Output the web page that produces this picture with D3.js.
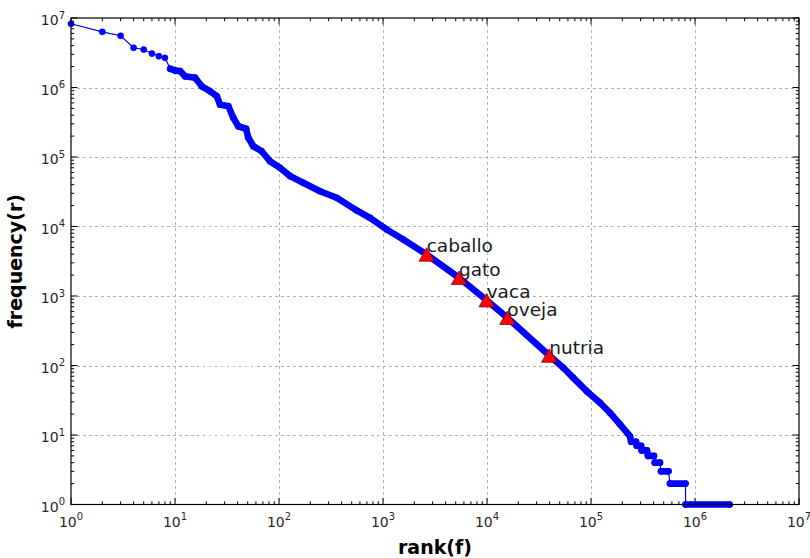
<!DOCTYPE html>
<html>
<head>
<meta charset="utf-8">
<script src="https://cdn.jsdelivr.net/npm/d3@7/dist/d3.min.js"></script>
<style>
  html, body { margin: 0; padding: 0; background: #fff; }
  svg { display: block; }
  text { font-family: "DejaVu Sans", sans-serif; }
</style>
</head>
<body>
<svg id="chart" width="810" height="558"></svg>
<script>
// ---- data ----
const ranks = [1, 2, 3, 4, 5, 6, 7, 8, 9, 10,
  11.2, 12.5, 15.6, 18.1, 21.7, 25.2, 27.1, 32.6, 36.4, 40.6,
  48.2, 50.7, 56.6, 68.2, 81.9, 102, 128, 171, 248, 359,
  559, 750, 1086, 1568, 2630, 5380, 9930, 15700, 39700, 54200,
  67600, 90900, 122000, 152000, 190000, 237000,
  243000, 271000, 275000, 303000, 307000, 345000, 353000, 403000,
  410000, 460000, 471000, 556000, 575000, 810000, 812000, 2150000];
const freqs = [8.26e6, 6.33e6, 5.55e6, 3.73e6, 3.52e6, 3.08e6, 2.82e6, 2.67e6, 1.86e6, 1.76e6,
  1.72e6, 1.45e6, 1.38e6, 1.04e6, 8.85e5, 7.5e5, 5.69e5, 5.38e5, 3.66e5, 2.77e5,
  2.55e5, 1.89e5, 1.43e5, 1.21e5, 8.7e4, 7.0e4, 5.3e4, 4.26e4, 3.22e4, 2.59e4,
  1.70e4, 1.33e4, 9060, 6500, 3955, 1828, 870, 486, 139, 92.7,
  66.5, 42.7, 29.1, 20.9, 14.2, 9.6,
  8, 8, 7, 7, 6, 6, 5, 5,
  4, 4, 3, 3, 2, 2, 1, 1];

const words = ["caballo", "gato", "vaca", "oveja", "nutria"];
const wordRanks = [2630, 5380, 9930, 15700, 39700];
const wordFreqs = [3955, 1828, 870, 486, 139];

const xExponents = [0, 1, 2, 3, 4, 5, 6, 7];
const yExponents = [0, 1, 2, 3, 4, 5, 6, 7];
const xLabel = "rank(f)";
const yLabel = "frequency(r)";

// ---- layout ----
const L = 71, R = 799, T = 18, B = 504.5;
const svg = d3.select("#chart");
const x = d3.scaleLog().domain([1, 1e7]).range([L, R]);
const y = d3.scaleLog().domain([1, 1e7]).range([B, T]);

const minorVals = [];
for (let e = 0; e < 7; e++) for (let m = 2; m <= 9; m++) minorVals.push(m * Math.pow(10, e));
const majorVals = xExponents.map(e => Math.pow(10, e));
const majorY = yExponents.map(e => Math.pow(10, e));

// grid
const grid = svg.append("g").attr("stroke", "#b4b4b4").attr("stroke-width", 1)
  .attr("stroke-dasharray", "2.5,3.5").attr("shape-rendering", "crispEdges");
majorVals.slice(1, -1).forEach(v => {
  grid.append("line").attr("x1", Math.round(x(v)) + 0.5).attr("x2", Math.round(x(v)) + 0.5)
    .attr("y1", T).attr("y2", B);
});
majorY.slice(1, -1).forEach(v => {
  grid.append("line").attr("y1", Math.round(y(v)) + 0.5).attr("y2", Math.round(y(v)) + 0.5)
    .attr("x1", L).attr("x2", R);
});

// ticks (inside, all four sides)
const tk = svg.append("g").attr("stroke", "#000").attr("stroke-width", 1);
const MAJ = 6.5, MIN = 3.2;
function vtick(px, len) {
  tk.append("line").attr("x1", px).attr("x2", px).attr("y1", B).attr("y2", B - len);
  tk.append("line").attr("x1", px).attr("x2", px).attr("y1", T).attr("y2", T + len);
}
function htick(py, len) {
  tk.append("line").attr("y1", py).attr("y2", py).attr("x1", L).attr("x2", L + len);
  tk.append("line").attr("y1", py).attr("y2", py).attr("x1", R).attr("x2", R - len);
}
majorVals.forEach(v => vtick(x(v), MAJ));
minorVals.forEach(v => vtick(x(v), MIN));
majorY.forEach(v => htick(y(v), MAJ));
minorVals.forEach(v => htick(y(v), MIN));

// data: thin connecting line
const pts = ranks.map((r, i) => [x(r), y(freqs[i])]);
const dataG = svg.append("g");
dataG.append("path").attr("d", d3.line()(pts))
  .attr("fill", "none").attr("stroke", "#0000ff").attr("stroke-width", 1.2);

// dense overlapping markers rendered as a band along consecutive close points
const band = [];
for (let i = 0; i < pts.length - 1; i++) {
  if (ranks[i] >= 9 && (freqs[i + 1] >= 5 || freqs[i] === freqs[i + 1])) {
    band.push([pts[i], pts[i + 1]]);
  }
}
dataG.append("path")
  .attr("d", band.map(s => d3.line()(s)).join(""))
  .attr("fill", "none").attr("stroke", "#0000ff").attr("stroke-width", 6.6)
  .attr("stroke-linecap", "round").attr("stroke-linejoin", "round");
dataG.selectAll("circle").data(pts).join("circle")
  .attr("cx", d => d[0]).attr("cy", d => d[1]).attr("r", 3.1)
  .attr("fill", "#0000ff").attr("stroke", "#0000ff").attr("stroke-width", 0.5);

// frame
svg.append("rect").attr("x", L).attr("y", T).attr("width", R - L).attr("height", B - T)
  .attr("fill", "none").attr("stroke", "#000").attr("stroke-width", 1.2);

// word markers
const tri = (w, h) => `M0,${-h / 2}L${w / 2},${h / 2}L${-w / 2},${h / 2}Z`;
words.forEach((w, i) => {
  const cx = x(wordRanks[i]), cy = y(wordFreqs[i]);
  svg.append("path").attr("d", tri(15.5, 13.5)).attr("transform", `translate(${cx},${cy})`)
    .attr("fill", "#ff0000").attr("stroke", "#7a0000").attr("stroke-width", 0.7);
  svg.append("text").attr("x", cx).attr("y", cy - 2).attr("font-size", 18.5)
    .attr("fill", "#1a1a1a").text(w);
});

// tick labels
function sup(sel, e, fs, ss, dy) {
  sel.append("tspan").text("10").attr("font-size", fs);
  sel.append("tspan").text(String(e)).attr("font-size", ss).attr("dy", dy);
}
xExponents.forEach(e => {
  const t = svg.append("text").attr("x", x(Math.pow(10, e))).attr("y", 526.5)
    .attr("text-anchor", "middle").attr("fill", "#262626");
  sup(t, e, 14, 10, -6.5);
});
yExponents.forEach(e => {
  const t = svg.append("text").attr("x", 65).attr("y", y(Math.pow(10, e)) + 7)
    .attr("text-anchor", "end").attr("fill", "#262626");
  sup(t, e, 14, 10, -6.5);
});

// axis labels
svg.append("text").attr("x", (L + R) / 2).attr("y", 554).attr("text-anchor", "middle")
  .attr("font-size", 19).attr("font-weight", "bold").attr("fill", "#000").text(xLabel);
svg.append("text").attr("transform", `translate(22,${(T + B) / 2}) rotate(-90)`)
  .attr("text-anchor", "middle").attr("font-size", 19).attr("font-weight", "bold")
  .attr("fill", "#000").text(yLabel);
</script>
</body>
</html>
